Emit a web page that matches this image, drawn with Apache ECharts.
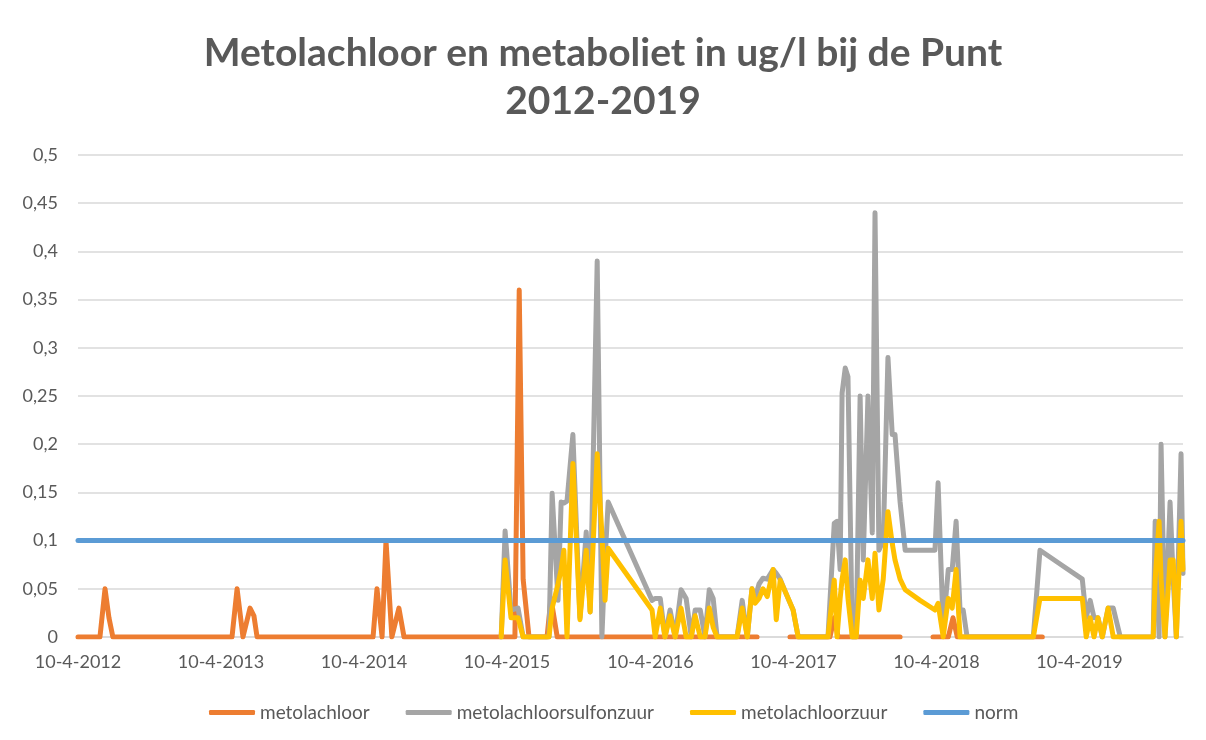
<!DOCTYPE html>
<html>
<head>
<meta charset="utf-8">
<script src="https://cdn.jsdelivr.net/npm/echarts@6/dist/echarts.min.js"></script>
<style>
  html, body { margin: 0; padding: 0; background: #fff; }
  #chart { width: 1206px; height: 740px; }
</style>
</head>
<body>
<div id="chart"></div>
<script>
// metolachloor (gaps = null)
const orangeDates = ['2012-04-10', '2012-06-05', '2012-06-18', '2012-06-28', '2012-07-08', '2012-11-05', '2013-02-15',
    '2013-05-08', '2013-05-21', '2013-06-05', '2013-06-23', '2013-07-03', '2013-07-11', '2013-10-29', '2014-02-08',
    '2014-05-03', '2014-05-13', '2014-05-26', '2014-06-05', '2014-06-20', '2014-07-08', '2014-07-21', '2014-11-15',
    '2015-03-23', '2015-04-30', '2015-05-11', '2015-05-21', '2015-06-05', '2015-07-21', '2015-07-31', '2015-08-16',
    '2015-12-03', '2016-04-09', '2016-08-15', '2017-01-07', '2017-02-15',
    '2017-04-01', '2017-07-12', '2017-07-23', '2017-08-02', '2018-01-07', '2018-02-20',
    '2018-04-01', '2018-05-10', '2018-05-22', '2018-06-02', '2019-01-05'];
const metolachloor = [0, 0, 0.05, 0.02, 0, 0, 0,
    0, 0.05, 0, 0.03, 0.022, 0, 0, 0,
    0, 0.05, 0, 0.1, 0, 0.03, 0, 0,
    0, 0, 0.36, 0.06, 0, 0, 0.04, 0,
    0, 0, 0, 0, null,
    0, 0, 0.02, 0, 0, null,
    0, 0, 0.02, 0, 0];

// metabolieten, zelfde meetdata
const metaDates = ['2015-03-26', '2015-04-05', '2015-04-20', '2015-05-08', '2015-05-21', '2015-06-23', '2015-07-26',
    '2015-08-03', '2015-08-18', '2015-08-26', '2015-09-02', '2015-09-10', '2015-09-25', '2015-10-13', '2015-10-29',
    '2015-11-08', '2015-11-26', '2015-12-08', '2015-12-16', '2015-12-24',
    '2016-04-14', '2016-04-22', '2016-05-05', '2016-05-17', '2016-05-30', '2016-06-12', '2016-06-27', '2016-07-10',
    '2016-07-23', '2016-08-02', '2016-08-15', '2016-08-27', '2016-09-07', '2016-09-17', '2016-09-27', '2016-10-23',
    '2016-11-17', '2016-11-30', '2016-12-13', '2016-12-25', '2017-01-02', '2017-01-12', '2017-01-22', '2017-02-02',
    '2017-02-17', '2017-02-25', '2017-03-07', '2017-03-22', '2017-04-09',
    '2017-04-22', '2017-05-30', '2017-07-07', '2017-07-23', '2017-07-30', '2017-08-07', '2017-08-12', '2017-08-20',
    '2017-08-27', '2017-09-07', '2017-09-17', '2017-09-27', '2017-10-05', '2017-10-17', '2017-10-28', '2017-11-04',
    '2017-11-14', '2017-11-25', '2017-12-07', '2017-12-18', '2017-12-25', '2018-01-07', '2018-01-20', '2018-02-27',
    '2018-04-06', '2018-04-14', '2018-04-27', '2018-05-10', '2018-05-20', '2018-05-30', '2018-06-09', '2018-06-17',
    '2018-06-27', '2018-08-25', '2018-10-15', '2018-12-13', '2018-12-30', '2019-02-22',
    '2019-04-17', '2019-04-27', '2019-05-07', '2019-05-17', '2019-05-27', '2019-06-07', '2019-06-22', '2019-07-05',
    '2019-07-23', '2019-09-04', '2019-10-15', '2019-10-20', '2019-10-30', '2019-11-04', '2019-11-14', '2019-11-27',
    '2019-12-05', '2019-12-13', '2019-12-25', '2019-12-30'];
const sulfonzuur = [0, 0.11, 0.028, 0.03, 0, 0, 0,
    0.149, 0.038, 0.14, 0.139, 0.141, 0.21, 0.02, 0.109,
    0.026, 0.39, 0, 0.08, 0.14,
    0.038, 0.04, 0.04, 0, 0.028, 0, 0.049, 0.04,
    0, 0.028, 0.028, 0, 0.049, 0.04, 0, 0,
    0, 0.038, 0, 0.05, 0.04, 0.055, 0.061, 0.06,
    0.07, 0.066, 0.06, 0.045, 0.028,
    0, 0, 0, 0.118, 0.12, 0.07, 0.253, 0.279,
    0.27, 0, 0, 0.25, 0.08, 0.25, 0.108, 0.44,
    0.09, 0.1, 0.29, 0.21, 0.21, 0.14, 0.09, 0.09,
    0.09, 0.16, 0.01, 0.07, 0.07, 0.12, 0.028, 0.028,
    0, 0, 0, 0, 0.09, 0.075,
    0.06, 0.02, 0.038, 0.02, 0.02, 0, 0.03, 0.03,
    0, 0, 0, 0.12, 0, 0.2, 0, 0.14,
    0.06, 0, 0.19, 0.066];
const zuur = [0, 0.08, 0.02, 0.02, 0, 0, 0,
    0.03, 0.055, 0.07, 0.09, 0, 0.18, 0.018, 0.09,
    0.026, 0.19, 0.107, 0.038, 0.092,
    0.028, 0, 0.03, 0, 0.022, 0, 0.03, 0,
    0, 0.022, 0, 0, 0.03, 0.01, 0, 0,
    0, 0.03, 0, 0.05, 0.035, 0.04, 0.05, 0.042,
    0.07, 0.018, 0.059, 0.045, 0.028,
    0, 0, 0, 0.059, 0, 0.04, 0.06, 0.08,
    0.04, 0, 0, 0.059, 0.04, 0.08, 0.04, 0.087,
    0.028, 0.06, 0.13, 0.097, 0.08, 0.06, 0.049, 0.038,
    0.028, 0.035, 0, 0.04, 0.03, 0.07, 0, 0,
    0, 0, 0, 0, 0.04, 0.04,
    0.04, 0, 0.02, 0, 0.02, 0, 0.03, 0,
    0, 0, 0, 0.06, 0.12, 0.06, 0, 0.08,
    0.08, 0, 0.12, 0.07];

const normDates = ['2012-04-10', '2019-12-30'];
const norm = [0.1, 0.1];

const tickDates = ['2012-04-10', '2013-04-10', '2014-04-10', '2015-04-10', '2016-04-10', '2017-04-10', '2018-04-10', '2019-04-10'];
const legendNames = ['metolachloor', 'metolachloorsulfonzuur', 'metolachloorzuur', 'norm'];

function ts(s) {
    const p = s.split('-').map(Number);
    return new Date(p[0], p[1] - 1, p[2]).getTime();
}
function pairs(dates, vals) {
    return dates.map((d, i) => [ts(d), vals[i] === null ? '-' : vals[i]]);
}

const chart = echarts.init(document.getElementById('chart'));
const font = 'Lato, "Open Sans", sans-serif';

function lineSeries(name, color, data) {
    return {
        name: name,
        type: 'line',
        data: data,
        symbol: 'none',
        connectNulls: false,
        lineStyle: { color: color, width: 5, cap: 'round', join: 'round' },
        itemStyle: { color: color }
    };
}

chart.setOption({
    animation: false,
    backgroundColor: '#fff',
    title: {
        text: 'Metolachloor en metaboliet in ug/l bij de Punt\n2012-2019',
        left: 'center',
        top: 24,
        textStyle: { fontFamily: font, fontSize: 39, fontWeight: 'bold', color: '#595959', lineHeight: 48 }
    },
    legend: {
        data: legendNames,
        left: 204,
        top: 698,
        itemWidth: 46,
        itemHeight: 5,
        itemGap: 36,
        icon: 'roundRect',
        textStyle: { fontFamily: font, fontSize: 19, color: '#595959' }
    },
    grid: { left: 78, right: 23, top: 155, bottom: 103 },
    xAxis: {
        type: 'value',
        min: ts('2012-04-10'),
        max: ts('2019-12-30'),
        splitLine: { show: false },
        axisTick: { show: false },
        axisLine: { show: true, lineStyle: { color: '#d9d9d9', width: 1.5 } },
        axisLabel: {
            customValues: tickDates.map(ts),
            formatter: function (v) {
                const d = new Date(v);
                return d.getDate() + '-' + (d.getMonth() + 1) + '-' + d.getFullYear();
            },
            fontFamily: font,
            fontSize: 18,
            color: '#595959',
            margin: 16
        }
    },
    yAxis: {
        type: 'value',
        min: 0,
        max: 0.5,
        interval: 0.05,
        axisLine: { show: false },
        axisTick: { show: false },
        splitLine: { lineStyle: { color: '#d9d9d9', width: 1.5 } },
        axisLabel: {
            formatter: v => String(parseFloat(v.toFixed(2))).replace('.', ','),
            fontFamily: font,
            fontSize: 18,
            color: '#595959',
            margin: 20
        }
    },
    series: [
        lineSeries('metolachloor', '#ED7D31', pairs(orangeDates, metolachloor)),
        lineSeries('metolachloorsulfonzuur', '#A5A5A5', pairs(metaDates, sulfonzuur)),
        lineSeries('metolachloorzuur', '#FFC000', pairs(metaDates, zuur)),
        lineSeries('norm', '#5B9BD5', pairs(normDates, norm))
    ]
});
</script>
</body>
</html>
